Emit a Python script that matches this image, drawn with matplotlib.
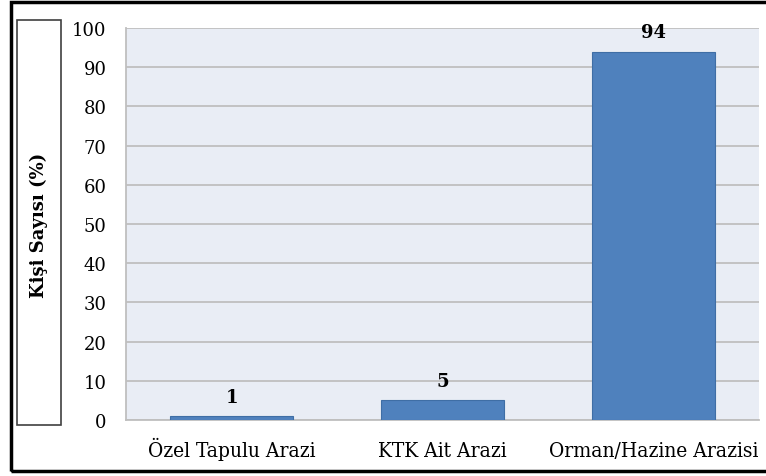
from matplotlib import pyplot as plt
from matplotlib.patches import Rectangle

categories = ["Özel Tapulu Arazi", "KTK Ait Arazi", "Orman/Hazine Arazisi"]
values = [1, 5, 94]
yticks = [0, 10, 20, 30, 40, 50, 60, 70, 80, 90, 100]

W, H = 766, 477
fig = plt.figure(figsize=(W / 100, H / 100), dpi=100)
fig.patch.set_facecolor("white")

# plot area in pixel coords
left, right, top, bottom = 126, 759, 29, 421
ax = fig.add_axes([left / W, (H - bottom) / H, (right - left) / W, (bottom - top) / H])
ax.set_facecolor("#e9edf5")

x = range(len(categories))
ax.bar(x, values, width=0.58, color="#4f81bd", edgecolor="#3f6ea5", linewidth=0.8, zorder=3)
for xi, v in zip(x, values):
    ax.annotate(str(v), (xi, v), xytext=(0, 14), textcoords="offset points",
                ha="center", va="center", fontsize=13, fontweight="bold",
                family="DejaVu Serif", zorder=4)

ax.set_xlim(-0.5, len(categories) - 0.5)
ax.set_ylim(0, 100)
ax.set_yticks(yticks)
ax.set_xticks(list(x))
ax.set_xticklabels(categories)
ax.grid(axis="y", color="#bfbfbf", linewidth=1.3, zorder=0)
ax.tick_params(length=0)
ax.tick_params(axis="y", pad=14, labelsize=13)
ax.tick_params(axis="x", pad=26, labelsize=15)
for lbl in ax.get_yticklabels():
    lbl.set_family("DejaVu Serif")
for lbl in ax.get_xticklabels():
    lbl.set_family("DejaVu Serif")
    lbl.set_fontstretch("condensed")
    lbl.set_verticalalignment("baseline")
for s in ["top", "right"]:
    ax.spines[s].set_visible(False)
for s in ["left", "bottom"]:
    ax.spines[s].set_color("#bfbfbf")
    ax.spines[s].set_linewidth(1.3)

# y-label box
fig.patches.append(Rectangle((17 / W, (H - 426) / H), 44 / W, 405 / H,
                             transform=fig.transFigure, fill=False,
                             edgecolor="#404040", linewidth=1.2))
fig.text(39 / W, (H - 225) / H, "Kişi Sayısı (%)", rotation=90, ha="center", va="center",
         fontsize=13, fontweight="bold", family="DejaVu Serif")

# outer frame
fig.patches.append(Rectangle((11 / W, (H - 472) / H), 800 / W, 469 / H,
                             transform=fig.transFigure, fill=False,
                             edgecolor="black", linewidth=2.5))

fig.savefig("out.png", dpi=100)
